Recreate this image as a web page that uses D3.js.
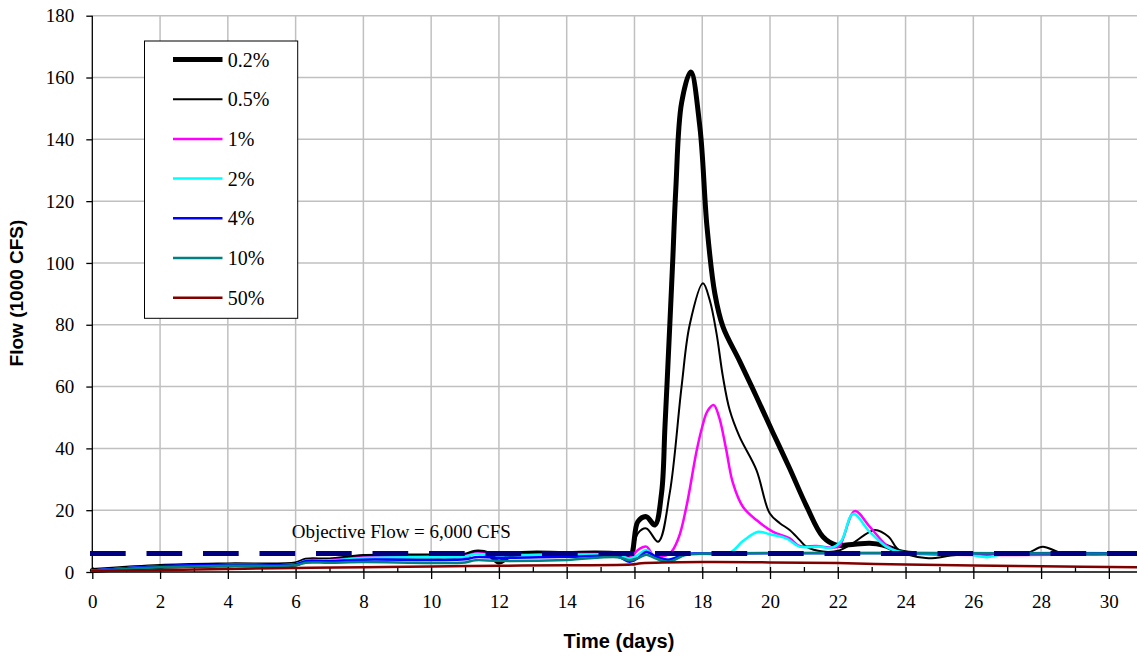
<!DOCTYPE html>
<html><head><meta charset="utf-8">
<script src="https://cdn.jsdelivr.net/npm/d3@7"></script>
<style>
body{margin:0;background:#fff;}
svg{display:block;}
.serif{font-family:"Liberation Serif","Times New Roman",serif;}
.sans{font-family:"Liberation Sans",Arial,sans-serif;}
</style></head>
<body>
<svg id="chart" width="1137" height="658"></svg>
<script>
// ---- data ----
const seriesNames = ["0.2%","0.5%","1%","2%","4%","10%","50%"];
const seriesColors = ["#000000","#000000","#ff00ff","#00ffff","#0000ff","#008080","#800000"];
const seriesWidths = [5,2,2.5,2.5,2.5,2.5,2.5];

const flow02 = [[0,0.5],[1,1.2],[2,1.8],[4,2.3],[6,2.6],[6.3,3.8],[7,3.9],[8,5.0],[10,5.2],[11,5.4],[11.3,6.4],[11.7,5.8],[12,3.2],[12.4,5.6],[14,6.0],[15.5,5.8],[15.86,4.5],[16.1,16.3],[16.35,17.9],[16.6,15.2],[16.8,25.6],[16.9,47],[17.04,79.4],[17.13,101],[17.22,124],[17.39,151.8],[17.66,161.8],[17.93,144],[18.14,111.7],[18.37,90.2],[18.61,79.4],[19.1,68.3],[19.6,56.7],[20.09,45],[20.58,33.5],[21.07,21.5],[21.56,11.4],[21.96,8.7],[22.5,9],[22.94,9.3],[23.33,8.7],[23.83,6.6],[24.2,6]];
const flow05 = [[0,0.5],[1,1.2],[2,1.8],[4,2.3],[6,2.5],[6.3,3.6],[7,3.8],[8,4.9],[10,5.1],[11,5.3],[11.3,6.3],[12,5.7],[14,5.9],[15.5,5.7],[15.86,4.8],[16.1,12.5],[16.35,14.1],[16.7,9.8],[17.04,25.5],[17.39,60],[17.63,80],[18.02,93.4],[18.22,88],[18.42,77.3],[18.61,63.2],[18.81,52.4],[19.1,43.8],[19.6,33],[19.99,19],[20.29,15.8],[20.58,13.6],[20.87,10.4],[21.07,8.2],[21.56,6.6],[22.05,7],[22.45,9.4],[23.1,13.6],[23.5,11.4],[23.8,7.1],[24.6,4.5],[25.5,5.5],[27,6],[27.6,6.2],[28.05,8.2],[28.6,6.2],[30.83,6]];
const flow1 = [[0,0.5],[1,1.2],[2,1.8],[4,2.3],[6,2.5],[6.3,3.7],[7,3.8],[8,4.7],[10,5.0],[11,5.2],[11.3,6.0],[12,5.6],[14,5.8],[15.5,5.6],[15.86,4.6],[16.1,7.1],[16.35,8.2],[16.6,5],[17.04,6],[17.3,11],[17.53,21],[17.83,39],[18.0,47],[18.15,52],[18.34,54],[18.5,50],[18.7,40],[18.9,29],[19.2,21.1],[19.6,16.8],[20.09,13],[20.58,10.9],[20.87,8.4],[21.37,8.4],[21.86,7.9],[22.05,8.5],[22.5,19.7],[22.94,14.7],[23.43,8.7],[23.77,6.6],[24.5,5.8],[30.83,5.8]];
const flow2 = [[0,0.5],[1,1.2],[2,1.8],[4,2.3],[6,2.5],[6.3,3.6],[7,3.7],[8,4.5],[10,4.8],[11,5.0],[11.3,5.8],[12,5.4],[14,5.6],[15.5,5.5],[15.86,4.3],[16.1,5.5],[16.35,7.1],[16.6,5],[17.0,4],[17.5,5.8],[18.8,6.2],[19.2,10],[19.65,13],[20.0,12.2],[20.48,10.9],[20.87,8.2],[21.46,8.2],[21.8,7.8],[22.1,10],[22.45,18.8],[22.94,13],[23.43,8.2],[23.73,6.8],[24.5,6],[25.8,5.8],[26.4,4.8],[26.9,5.8],[30.83,6]];
const flow4 = [[0,0.5],[1,1.2],[2,1.9],[4,2.3],[6,2.5],[6.3,3.5],[7,3.5],[8,4],[10,3.9],[11,4.1],[11.3,4.8],[12,4.6],[14,4.9],[15.5,5],[15.86,3.3],[16.1,4.5],[16.35,6.5],[16.6,5.2],[17.0,4.0],[17.5,5.8],[18,6],[30.83,6]];
const flow10 = [[0,0.4],[1,1.0],[2,1.5],[4,2.0],[6,2.2],[6.3,3.0],[7,3.0],[8,3.2],[10,2.9],[11,3.1],[11.3,3.8],[12,3.6],[14,3.9],[15.5,4.8],[15.86,3.8],[16.1,4.5],[16.35,5.6],[16.6,4.5],[17.0,3.3],[17.5,5.5],[18,5.9],[30.83,5.9]];
const flow50 = [[0,0.3],[2,0.6],[4,1.0],[6,1.3],[8,1.5],[10,1.8],[12,2.0],[14,2.2],[15.9,2.4],[16.2,2.8],[18,3.2],[20,3.1],[22,2.9],[24,2.4],[26,2.1],[28,1.9],[30.83,1.5]];
const allFlows = [flow02, flow05, flow1, flow2, flow4, flow10, flow50];

const objectiveFlow = 6;
const objectiveLabel = "Objective Flow = 6,000 CFS";
const xTicks = [0,2,4,6,8,10,12,14,16,18,20,22,24,26,28,30];
const xMinorTicks = d3.range(0,31,1);
const yTicks = [0,20,40,60,80,100,120,140,160,180];
const xTitle = "Time (days)";
const yTitle = "Flow (1000 CFS)";

// ---- layout ----
const svg = d3.select("#chart");
const L = 92.3, R = 1137, T = 15.7, B = 572;
const x = d3.scaleLinear().domain([0, 30.83]).range([L, R]);
const y = d3.scaleLinear().domain([0, 180]).range([B, T]);

// grid
svg.append("g").selectAll("line").data(xTicks.filter(d=>d>0)).join("line")
  .attr("x1", d=>x(d)).attr("x2", d=>x(d)).attr("y1", T).attr("y2", B)
  .attr("stroke","#c0c0c0").attr("stroke-width",1.5);
svg.append("g").selectAll("line").data(yTicks.filter(d=>d>0)).join("line")
  .attr("x1", L).attr("x2", R).attr("y1", d=>y(d)).attr("y2", d=>y(d))
  .attr("stroke","#c0c0c0").attr("stroke-width",1.5);

// axes
const yAxis = svg.append("g").attr("transform",`translate(${L},0)`)
  .call(d3.axisLeft(y).tickValues(yTicks).tickSize(6).tickPadding(12));
yAxis.attr("font-family",null).attr("font-size",null);
yAxis.selectAll("text").attr("class","serif").style("font-size","19px").attr("fill","#000");
yAxis.selectAll("line,path").attr("stroke","#000").attr("stroke-width",1.3);
yAxis.select("path").attr("d",`M0,${T}V${B}`);

const xMinor = svg.append("g").attr("transform",`translate(0,${B})`)
  .call(d3.axisBottom(x).tickValues(xMinorTicks).tickSize(-5).tickFormat(""));
xMinor.select("path").remove();
xMinor.selectAll("line").attr("stroke","#000").attr("stroke-width",1.3);

const xAxis = svg.append("g").attr("transform",`translate(0,${B})`)
  .call(d3.axisBottom(x).tickValues(xTicks).tickSize(7));
xAxis.attr("font-family",null).attr("font-size",null);
xAxis.selectAll("text").attr("class","serif").style("font-size","19px").attr("fill","#000")
  .attr("y",36).attr("dy",0);
xAxis.selectAll("line,path").attr("stroke","#000").attr("stroke-width",1.3);
xAxis.select("path").attr("d",`M${L},0H${R}`);

// series
const line = d3.line().x(d=>x(d[0])).y(d=>y(d[1])).curve(d3.curveCatmullRom.alpha(0.5));
svg.append("g").selectAll("path").data(allFlows).join("path")
  .attr("d", line).attr("fill","none")
  .attr("stroke",(d,i)=>seriesColors[i]).attr("stroke-width",(d,i)=>seriesWidths[i])
  .attr("stroke-linejoin","round").attr("stroke-linecap","round");

// objective flow line
svg.append("line").attr("x1",90).attr("x2",R).attr("y1",y(objectiveFlow)).attr("y2",y(objectiveFlow))
  .attr("stroke","#000080").attr("stroke-width",5).attr("stroke-dasharray","35.7 20.8");
svg.append("text").attr("class","serif").attr("x",291.7).attr("y",537.7).style("font-size","19px")
  .attr("fill","#000").text(objectiveLabel);

// titles
svg.append("text").attr("class","sans").attr("x",619).attr("y",648).attr("text-anchor","middle")
  .attr("font-weight","bold").style("font-size","20px").text(xTitle);
svg.append("text").attr("class","sans").attr("transform","translate(23,293) rotate(-90)").attr("text-anchor","middle")
  .attr("font-weight","bold").style("font-size","19px").text(yTitle);

// legend
const lg = svg.append("g");
lg.append("rect").attr("x",144.5).attr("y",41).attr("width",153.2).attr("height",277.3)
  .attr("fill","#fff").attr("stroke","#000").attr("stroke-width",1);
const rowY = i => 59.5 + i*39.7;
lg.selectAll("line.k").data(seriesNames).join("line")
  .attr("x1",173).attr("x2",222.5).attr("y1",(d,i)=>rowY(i)).attr("y2",(d,i)=>rowY(i))
  .attr("stroke",(d,i)=>seriesColors[i]).attr("stroke-width",(d,i)=>seriesWidths[i]);
lg.selectAll("text").data(seriesNames).join("text")
  .attr("class","serif").attr("x",227.7).attr("y",(d,i)=>rowY(i)).attr("dy","0.35em")
  .style("font-size","20px").attr("fill","#000").text(d=>d);
</script>
</body></html>
